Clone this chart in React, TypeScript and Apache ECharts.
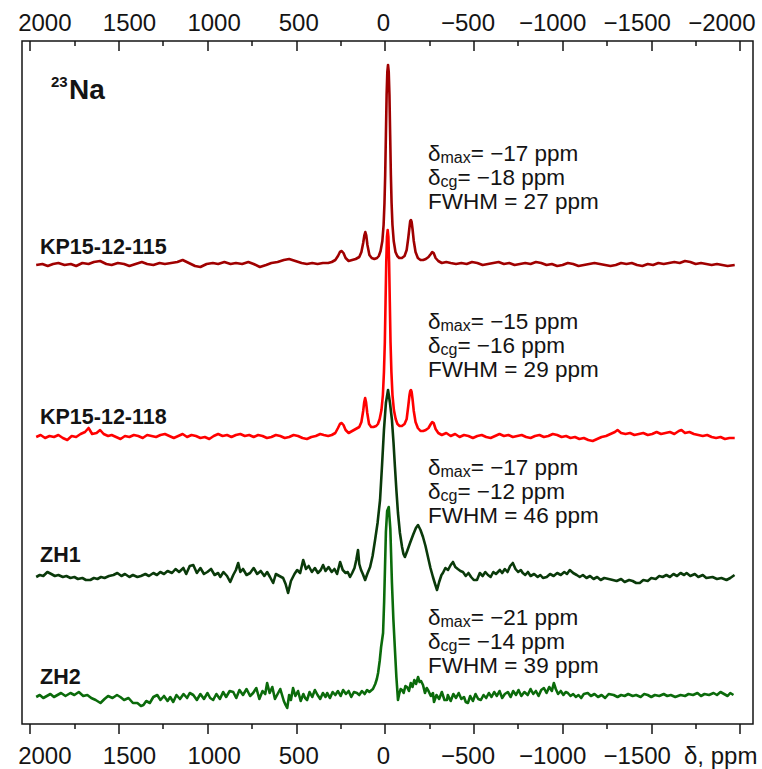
import React, { useEffect, useRef } from "react";
import * as echarts from "echarts";

// ---------- axis ----------
const X_MIN = -2073;
const X_MAX = 2045;
// the tick labels of the original sit on a slightly narrower scale than its ticks
const LABEL_MIN = -2184;
const LABEL_MAX = 2135;
const MAJOR_TICKS = [2000, 1500, 1000, 500, 0, -500, -1000, -1500, -2000];
const TOP_LABELS = [2000, 1500, 1000, 500, 0, -500, -1000, -1500, -2000];
const BOTTOM_LABELS = [2000, 1500, 1000, 500, 0, -500, -1000, -1500];
const MINOR_TICKS = [1750, 1250, 750, 250, -250, -750, -1250, -1750];
const X_TITLE = "δ, ppm";

// ---------- spectra ----------
const NAMES = ["KP15-12-115", "KP15-12-118", "ZH1", "ZH2"];
const COLORS = ["#A00000", "#FF0000", "#0A3A0A", "#0B6B0B"];
const OFFSETS = [459, 287, 146, 27];

const DELTA_MAX = ["−17", "−15", "−17", "−21"];
const DELTA_CG = ["−18", "−16", "−12", "−14"];
const FWHM = ["27", "29", "46", "39"];

// [ppm, intensity]
const KP115: [number, number][] = [
  [1965, 0], [1930, 1], [1900, -1], [1870, 1], [1840, 2], [1805, 0], [1770, 1], [1740, -1], [1705, 2], [1670, 1],
  [1640, 3], [1605, 4], [1570, 1], [1540, 0], [1505, 2], [1470, 1], [1440, -1], [1405, 1], [1370, 3], [1340, 1],
  [1305, 0], [1270, 2], [1240, 1], [1205, 2], [1170, 3], [1140, 5], [1105, 2], [1070, -1], [1040, -2], [1005, 1],
  [970, 2], [940, 1], [905, 3], [870, 1], [840, 2], [805, 1], [770, 3], [740, 1], [705, -2], [670, 0],
  [640, 2], [605, 3], [570, 5], [540, 6], [505, 4], [470, 2], [440, 1], [410, 2], [380, 1], [350, 2],
  [320, 2], [300, 3], [280, 5], [265, 9], [254, 13], [244, 14], [234, 12], [222, 7], [205, 4], [185, 5],
  [165, 6], [145, 8], [133, 13], [123, 22], [116, 30], [111, 33], [106, 30], [99, 20], [88, 10], [75, 7],
  [60, 6], [45, 7], [35, 9], [25, 14], [15, 24], [8, 40], [3, 62], [-1, 90], [-5, 130], [-9, 170],
  [-13, 193], [-17, 200], [-21, 193], [-25, 170], [-29, 130], [-33, 90], [-37, 62], [-42, 40], [-49, 24], [-59, 13],
  [-69, 9], [-80, 7], [-95, 7], [-110, 9], [-122, 15], [-131, 27], [-138, 38], [-142, 44], [-146, 45], [-150, 43],
  [-155, 36], [-162, 24], [-172, 13], [-185, 7], [-200, 5], [-215, 5], [-230, 6], [-245, 8], [-258, 11], [-266, 13],
  [-274, 12], [-285, 7], [-300, 4], [-320, 2], [-345, 3], [-370, 2], [-400, 1], [-430, 2], [-460, 1], [-490, 3],
  [-520, 2], [-550, 0], [-580, 1], [-610, 2], [-640, 3], [-670, 1], [-700, 2], [-730, 0], [-760, 1], [-790, 2],
  [-820, 1], [-850, 3], [-880, 2], [-910, 0], [-940, 1], [-970, -1], [-1000, 0], [-1030, 2], [-1060, 1], [-1090, -1],
  [-1120, 0], [-1150, 1], [-1180, 2], [-1210, 1], [-1240, 0], [-1270, -1], [-1300, 0], [-1330, 2], [-1360, 1], [-1390, 2],
  [-1420, 0], [-1450, -1], [-1480, 1], [-1510, 0], [-1540, 2], [-1570, 1], [-1600, 2], [-1630, 3], [-1660, 2], [-1690, 4],
  [-1720, 3], [-1750, 1], [-1780, 2], [-1810, 1], [-1840, 0], [-1870, 1], [-1900, 0], [-1930, -1], [-1970, 0],
];

const KP118: [number, number][] = [
  [1965, 0], [1940, 2], [1915, -1], [1890, 1], [1865, 0], [1840, 2], [1815, -1], [1790, -3], [1765, 1], [1740, 0],
  [1715, 3], [1690, 5], [1670, 9], [1650, 3], [1625, 4], [1605, 7], [1585, 3], [1560, 1], [1540, 2], [1515, 0],
  [1490, -2], [1465, 1], [1440, 0], [1415, 2], [1390, 1], [1365, -1], [1340, 2], [1315, 1], [1290, 0], [1265, 2],
  [1240, 3], [1215, 1], [1190, -1], [1165, 1], [1140, 3], [1115, 0], [1090, 2], [1065, 1], [1040, -1], [1015, 0],
  [990, -2], [965, 1], [940, 3], [915, 1], [890, 2], [865, 0], [840, 2], [815, 3], [790, 1], [765, 2],
  [740, 0], [715, 2], [690, 1], [665, -1], [640, 0], [615, 2], [590, 1], [565, -1], [540, 0], [515, 2],
  [490, 1], [465, -1], [440, -2], [415, 0], [390, 1], [365, 3], [345, 2], [320, 1], [300, 2], [280, 4],
  [265, 9], [254, 13], [244, 14], [234, 12], [222, 7], [205, 4], [185, 6], [165, 8], [145, 10], [133, 15],
  [123, 26], [117, 35], [112, 39], [107, 35], [100, 24], [90, 13], [78, 10], [65, 10], [50, 11], [40, 13],
  [30, 18], [20, 27], [12, 42], [6, 65], [1, 95], [-3, 135], [-7, 175], [-11, 200], [-15, 207], [-19, 200],
  [-23, 175], [-27, 135], [-31, 95], [-36, 65], [-42, 42], [-50, 27], [-60, 18], [-70, 13], [-82, 11], [-95, 11],
  [-110, 13], [-122, 18], [-131, 31], [-138, 42], [-142, 46], [-146, 47], [-150, 45], [-155, 38], [-162, 26], [-172, 15],
  [-185, 9], [-200, 6], [-215, 6], [-230, 7], [-245, 9], [-258, 13], [-266, 15], [-274, 14], [-285, 8], [-300, 4],
  [-320, 2], [-345, 4], [-370, 1], [-395, 3], [-420, 0], [-445, 2], [-470, 1], [-495, -1], [-520, 1], [-545, 2],
  [-570, 0], [-595, -1], [-620, 1], [-645, 3], [-670, 1], [-695, 2], [-720, 0], [-745, 1], [-770, 2], [-795, 0],
  [-820, -1], [-845, 1], [-870, 2], [-895, 0], [-920, 1], [-945, 3], [-970, 2], [-995, 0], [-1020, 1], [-1045, -1],
  [-1070, 0], [-1095, -2], [-1120, -1], [-1145, -3], [-1170, -4], [-1195, -2], [-1220, 0], [-1245, 1], [-1270, 3], [-1295, 5],
  [-1310, 7], [-1330, 4], [-1355, 3], [-1380, 4], [-1405, 2], [-1430, 3], [-1455, 4], [-1480, 2], [-1505, 3], [-1530, 5],
  [-1555, 3], [-1580, 4], [-1605, 5], [-1630, 3], [-1655, 6], [-1670, 7], [-1690, 4], [-1715, 5], [-1740, 3], [-1765, 2],
  [-1790, 1], [-1815, 2], [-1840, 0], [-1865, -1], [-1890, 0], [-1915, -2], [-1940, -1], [-1970, -1],
];

const ZH1: [number, number][] = [
  [1965, 1], [1945, 3], [1925, 2], [1902, 6], [1880, 4], [1860, 2], [1840, 3], [1815, 1], [1795, 2], [1772, 0],
  [1750, 1], [1730, -1], [1705, 0], [1685, -2], [1660, -2], [1640, 0], [1620, -1], [1600, 1], [1580, 0], [1555, 2],
  [1530, 3], [1508, 5], [1485, 2], [1465, 4], [1440, 1], [1420, 3], [1395, 1], [1375, 2], [1350, 4], [1330, 2],
  [1305, 5], [1285, 3], [1266, 6], [1245, 4], [1225, 7], [1200, 5], [1180, 9], [1160, 6], [1136, 10], [1120, 4],
  [1100, 12], [1080, 13], [1060, 5], [1040, 10], [1020, 4], [1001, 6], [980, 9], [960, 3], [940, 5], [928, 1],
  [910, 6], [890, 2], [872, -4], [855, 3], [840, 8], [827, 15], [815, 6], [800, 9], [780, 3], [760, 5],
  [740, 10], [720, 4], [700, 7], [680, 2], [664, 6], [648, 1], [630, -5], [615, 4], [595, 2], [574, 0],
  [560, -6], [546, -15], [530, -3], [510, 4], [495, 8], [478, 5], [461, 18], [445, 9], [430, 12], [412, 6],
  [395, 10], [378, 5], [362, 8], [349, 13], [335, 7], [318, 11], [300, 6], [285, 9], [270, 4], [253, 16],
  [238, 8], [222, 5], [210, 6], [197, 1], [185, 5], [172, 10], [162, 18], [152, 28], [145, 14], [135, 8],
  [125, 4], [112, -2], [100, 4], [84, 11], [70, 22], [56, 38], [42, 55], [28, 78], [17, 112], [6, 148],
  [-5, 175], [-17, 188], [-28, 175], [-39, 158], [-48, 135], [-56, 111], [-64, 88], [-73, 65], [-84, 45], [-96, 31],
  [-104, 24], [-112, 21], [-125, 27], [-141, 35], [-160, 44], [-174, 50], [-186, 53], [-200, 48], [-214, 41], [-228, 32],
  [-242, 21], [-256, 10], [-270, 1], [-282, -6], [-293, -12], [-305, -4], [-318, 3], [-326, 5], [-340, 10], [-355, 8],
  [-370, 13], [-383, 16], [-396, 11], [-410, 9], [-425, 7], [-439, 6], [-455, 2], [-470, 5], [-485, 1], [-500, -2],
  [-518, -2], [-534, 5], [-550, 2], [-565, 6], [-580, 3], [-595, 1], [-610, 6], [-625, 4], [-647, 8], [-660, 5],
  [-675, 9], [-690, 6], [-705, 12], [-720, 15], [-735, 9], [-750, 6], [-765, 8], [-776, 5], [-790, 3], [-805, 6],
  [-820, 2], [-840, 4], [-860, 1], [-875, 3], [-890, 0], [-911, 1], [-930, 4], [-950, 2], [-970, 5], [-990, 3],
  [-1010, 6], [-1025, 4], [-1041, 8], [-1060, 5], [-1080, 3], [-1097, 1], [-1115, 3], [-1135, 0], [-1155, 2], [-1175, -1],
  [-1195, 1], [-1215, -2], [-1235, 0], [-1260, -1], [-1283, -2], [-1305, -3], [-1330, -1], [-1350, -4], [-1375, -2], [-1395, -3],
  [-1415, -5], [-1435, -5], [-1455, -2], [-1480, -3], [-1500, 0], [-1525, -1], [-1545, 2], [-1564, 1], [-1585, 3], [-1605, 1],
  [-1625, 4], [-1645, 2], [-1665, 5], [-1685, 3], [-1699, 5], [-1720, 2], [-1745, 4], [-1765, 1], [-1790, 3], [-1810, 0],
  [-1845, 1], [-1870, -1], [-1895, 0], [-1924, -2], [-1945, 0], [-1969, 3],
];

const ZH2: [number, number][] = [
  [1965, 0], [1945, 2], [1925, -1], [1905, 1], [1885, 3], [1865, 0], [1845, 2], [1825, 4], [1800, 1], [1772, 4],
  [1750, 2], [1725, 5], [1700, 1], [1677, 2], [1655, -1], [1630, -3], [1603, -6], [1580, -2], [1560, 1], [1535, -1],
  [1510, 2], [1491, 0], [1470, -3], [1445, -1], [1420, -6], [1395, -6], [1375, -9], [1361, -8], [1345, -4], [1325, -6],
  [1305, 0], [1283, 2], [1265, -3], [1245, 1], [1225, -4], [1210, 0], [1193, -5], [1175, 2], [1155, -2], [1135, 3],
  [1115, -1], [1100, 4], [1080, 2], [1060, -3], [1040, 3], [1020, -2], [1000, 4], [985, -1], [968, -3], [950, 3],
  [930, -2], [912, 5], [895, 0], [875, 6], [855, 5], [838, -1], [820, 7], [800, 2], [780, 8], [760, 1],
  [743, 4], [725, 9], [708, -2], [690, 6], [675, 3], [664, 14], [650, 4], [635, 10], [620, -2], [608, 2],
  [590, 8], [570, -4], [560, -8], [551, -11], [540, 2], [530, -3], [518, 9], [505, 1], [490, 6], [475, -4],
  [460, 3], [450, -1], [439, -3], [425, 5], [410, 0], [395, 7], [380, 2], [365, -2], [350, 4], [335, 0],
  [326, 4], [310, -1], [295, 5], [280, 2], [265, 6], [250, 1], [236, 7], [220, 3], [205, 6], [190, 0],
  [175, 5], [158, 4], [145, 2], [130, 6], [115, 3], [101, 7], [88, 5], [75, 7], [68, 8], [55, 13],
  [46, 18], [39, 24], [30, 36], [22, 50], [11, 64], [5, 95], [0, 130], [-5, 165], [-12, 186], [-21, 190],
  [-30, 168], [-39, 114], [-47, 78], [-56, 47], [-64, 20], [-73, -3], [-80, 3], [-88, 8], [-96, 7], [-105, 4],
  [-115, 11], [-124, 10], [-135, 6], [-145, 14], [-155, 10], [-165, 17], [-175, 13], [-186, 20], [-195, 15], [-203, 16],
  [-214, 12], [-225, 4], [-235, 9], [-245, 6], [-258, 1], [-270, 4], [-276, -5], [-290, 2], [-305, -2], [-320, 5],
  [-335, -3], [-349, -3], [-354, 2], [-370, -4], [-385, 3], [-400, -1], [-415, 4], [-430, -2], [-445, 0], [-455, -5],
  [-467, -6], [-480, 1], [-495, -4], [-510, 3], [-525, -2], [-540, -3], [-555, 2], [-570, -1], [-585, 4], [-600, 0],
  [-615, 5], [-630, 1], [-645, 6], [-660, -1], [-675, 3], [-692, 5], [-708, 0], [-722, 6], [-738, 2], [-752, 7],
  [-768, 1], [-785, 5], [-804, 2], [-820, 8], [-835, 3], [-850, 6], [-865, 1], [-880, 7], [-895, 9], [-910, 4],
  [-925, 10], [-940, 6], [-951, 14], [-962, 8], [-975, 3], [-990, 6], [-1005, 2], [-1018, 5], [-1030, 4], [-1045, 1],
  [-1060, 3], [-1075, 0], [-1090, 2], [-1105, -1], [-1120, 3], [-1142, 4], [-1160, 1], [-1180, 3], [-1200, 0], [-1220, 2],
  [-1240, -1], [-1260, 3], [-1288, 2], [-1310, 0], [-1330, 2], [-1350, 1], [-1370, 3], [-1395, 1], [-1415, 2], [-1440, 0],
  [-1460, 3], [-1480, 2], [-1500, 0], [-1520, 2], [-1545, 1], [-1570, 3], [-1590, 1], [-1610, 2], [-1635, 0], [-1665, 2],
  [-1690, 1], [-1710, 3], [-1735, 2], [-1760, 4], [-1780, 1], [-1800, 3], [-1825, 2], [-1851, 4], [-1870, 2], [-1890, 5],
  [-1910, 3], [-1930, 1], [-1945, 4], [-1963, 2],
];

const SPECTRA = [KP115, KP118, ZH1, ZH2];

const FONT = "'Liberation Sans', Arial, Helvetica, sans-serif";
const INK = "#141414";

const fmt = (v: number) => (v < 0 ? "\u2212" + Math.abs(v) : String(v));

export default function App() {
  const ref = useRef<HTMLDivElement>(null);

  useEffect(() => {
    document.body.style.margin = "0";
    if (!ref.current) return;
    const chart = echarts.init(ref.current, null, { renderer: "svg", width: 762, height: 769 });

    const baseX = {
      type: "value" as const,
      min: X_MIN,
      max: X_MAX,
      inverse: true,
      gridIndex: 0,
      axisLine: { show: false },
      splitLine: { show: false },
      minorTick: { show: false },
    };
    const tickStyle = { color: INK, width: 1.5 };
    const labelStyle = { fontSize: 24, color: INK, fontFamily: FONT, formatter: fmt, hideOverlap: false };

    const xAxis = [
      // data axis with major ticks (bottom, outward)
      {
        ...baseX,
        position: "bottom",
        axisTick: { show: true, customValues: MAJOR_TICKS, inside: false, length: 10, lineStyle: tickStyle },
        axisLabel: { show: false },
      },
      // major ticks top (inward)
      {
        ...baseX,
        position: "top",
        axisTick: { show: true, customValues: MAJOR_TICKS, inside: true, length: 10, lineStyle: tickStyle },
        axisLabel: { show: false },
      },
      // minor ticks
      {
        ...baseX,
        position: "bottom",
        axisTick: { show: true, customValues: MINOR_TICKS, inside: false, length: 5, lineStyle: tickStyle },
        axisLabel: { show: false },
      },
      {
        ...baseX,
        position: "top",
        axisTick: { show: true, customValues: MINOR_TICKS, inside: true, length: 5, lineStyle: tickStyle },
        axisLabel: { show: false },
      },
      // tick labels
      {
        ...baseX,
        min: LABEL_MIN,
        max: LABEL_MAX,
        position: "bottom",
        axisTick: { show: false },
        axisLabel: { ...labelStyle, show: true, customValues: BOTTOM_LABELS, margin: 19 },
      },
      {
        ...baseX,
        min: LABEL_MIN,
        max: LABEL_MAX,
        position: "top",
        axisTick: { show: false },
        axisLabel: { ...labelStyle, show: true, customValues: TOP_LABELS, margin: 7 },
      },
    ];

    const series = SPECTRA.map((spec, i) => ({
      name: NAMES[i],
      type: "line" as const,
      xAxisIndex: 0,
      yAxisIndex: 0,
      data: spec.map(([p, v]) => [p, v + OFFSETS[i]]),
      symbol: "none",
      showSymbol: false,
      smooth: false,
      silent: true,
      lineStyle: { color: COLORS[i], width: 2.6, join: "round" },
      itemStyle: { color: COLORS[i] },
      z: 2 + i,
    }));

    const labelY = [247, 417, 555, 677];
    const annoY = [153, 321, 467, 617];

    const txt = (x: number, y: number, style: any) => ({
      type: "text",
      x,
      y,
      style: { fill: INK, fontFamily: FONT, align: "left", textAlign: "left", verticalAlign: "middle", textVerticalAlign: "middle", ...style },
    });

    const graphics: any[] = [];
    graphics.push(txt(51, 81, { text: "23", fontSize: 15, fontWeight: "bold" }));
    graphics.push(txt(69, 89, { text: "Na", fontSize: 28, fontWeight: "bold" }));

    NAMES.forEach((n, i) => {
      graphics.push(txt(40, labelY[i], { text: n, fontSize: 21.5, fontWeight: "bold" }));
    });

    const rich = {
      m: { fontSize: 22.5, lineHeight: 25, fontFamily: FONT, fill: INK, color: INK },
      s: { fontSize: 16, lineHeight: 19, fontFamily: FONT, fill: INK, color: INK, verticalAlign: "bottom" },
    };
    NAMES.forEach((_, i) => {
      const lines = [
        `{m|δ}{s|max}{m|= ${DELTA_MAX[i]} ppm}`,
        `{m|δ}{s|cg}{m|= ${DELTA_CG[i]} ppm}`,
        `{m|FWHM = ${FWHM[i]} ppm}`,
      ];
      lines.forEach((t, j) => {
        graphics.push(txt(428, annoY[i] + j * 24, { text: t, rich, fontSize: 22.5 }));
      });
    });

    graphics.push(txt(684, 755, { text: X_TITLE, fontSize: 24 }));

    chart.setOption({
      animation: false,
      backgroundColor: "#ffffff",
      grid: {
        left: 22, right: 9, top: 41, bottom: 45,
        show: true, borderColor: INK, borderWidth: 1.5, backgroundColor: "transparent",
        containLabel: false, outerBoundsMode: "none",
      },
      xAxis,
      yAxis: { type: "value", min: 0, max: 683, show: false, splitLine: { show: false } },
      series,
      graphic: graphics,
    });

    return () => chart.dispose();
  }, []);

  return <div ref={ref} style={{ width: 762, height: 769 }} />;
}
